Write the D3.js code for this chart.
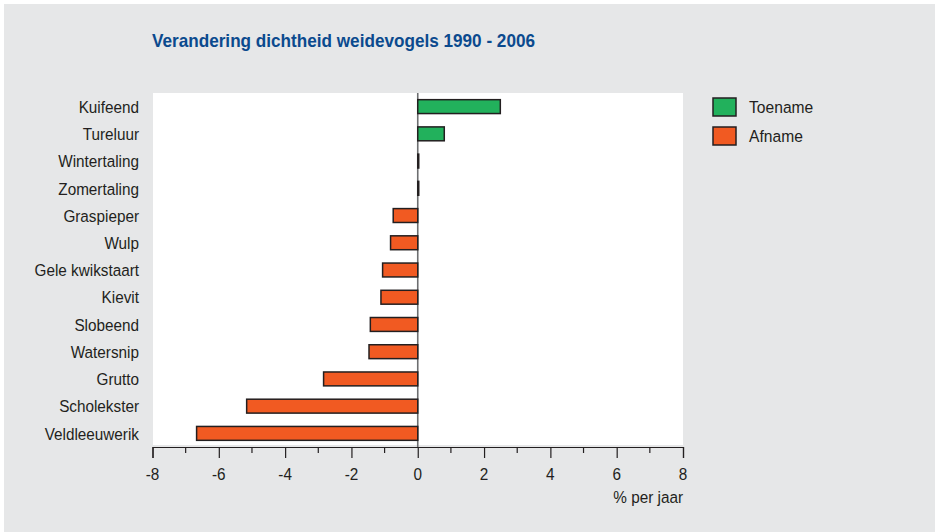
<!DOCTYPE html>
<html>
<head>
<meta charset="utf-8">
<script src="https://cdn.jsdelivr.net/npm/d3@7"></script>
<style>
  html, body { margin: 0; padding: 0; background: #fff; }
  svg { display: block; font-family: "Liberation Sans", Arial, sans-serif; }
</style>
</head>
<body>
<svg id="chart" width="937" height="532"></svg>
<script>
// Data (% change per year, 1990 - 2006)
const birds = ["Kuifeend", "Tureluur", "Wintertaling", "Zomertaling", "Graspieper", "Wulp",
  "Gele kwikstaart", "Kievit", "Slobeend", "Watersnip", "Grutto", "Scholekster", "Veldleeuwerik"];
const change = [2.49, 0.8, 0.03, 0.03, -0.74, -0.82, -1.06, -1.11, -1.43, -1.47, -2.84, -5.16, -6.67];
const xTicks = [-8, -6, -4, -2, 0, 2, 4, 6, 8];
const legendLabels = ["Toename", "Afname"];

const GREEN = "#22b15c", ORANGE = "#f15a22", INK = "#231f20";
const FS = 17, SX = 0.9; // the original type is tall and narrow

const svg = d3.select("#chart");

// place a text at (x,y) squeezed horizontally around its anchor
function narrowText(parent, x, y, str, anchor, sx) {
  return parent.append("text")
    .attr("transform", `translate(${x},${y}) scale(${sx},1)`)
    .attr("text-anchor", anchor)
    .attr("font-size", FS).attr("fill", INK)
    .text(str);
}

// grey panel
svg.append("rect").attr("x", 4).attr("y", 4).attr("width", 931).attr("height", 528)
  .attr("fill", "#e6e7e8");

const plot = { left: 153, right: 683, top: 93, bottom: 447 };

svg.append("text")
  .attr("x", 152).attr("y", 46.5)
  .attr("font-size", 19).attr("font-weight", "bold")
  .attr("fill", "#0b4a8e")
  .attr("textLength", 383).attr("lengthAdjust", "spacingAndGlyphs")
  .text("Verandering dichtheid weidevogels 1990 - 2006");

const x = d3.scaleLinear().domain([-8, 8]).range([plot.left - 0.5, plot.right]);
const y = d3.scaleBand().domain(birds).range([plot.top, plot.bottom]).paddingInner(0.49).paddingOuter(0.245);

svg.append("rect")
  .attr("x", plot.left).attr("y", plot.top)
  .attr("width", plot.right - plot.left).attr("height", plot.bottom - plot.top - 2)
  .attr("fill", "#fff");

// zero line
svg.append("line")
  .attr("x1", x(0)).attr("x2", x(0))
  .attr("y1", plot.top).attr("y2", plot.bottom)
  .attr("stroke", "#6d6e70").attr("stroke-width", 1.6);

const data = birds.map((b, i) => ({ name: b, value: change[i] }));

svg.append("g").selectAll("rect")
  .data(data)
  .enter().append("rect")
  .attr("x", d => x(Math.min(0, d.value)))
  .attr("y", d => y(d.name))
  .attr("width", d => Math.abs(x(d.value) - x(0)))
  .attr("height", y.bandwidth())
  .attr("fill", d => d.value >= 0 ? GREEN : ORANGE)
  .attr("stroke", INK).attr("stroke-width", 1.5);

// category labels
const labelG = svg.append("g");
birds.forEach(b => narrowText(labelG, 139, y(b) + y.bandwidth() / 2 + 6.2, b, "end", SX));

// x axis
const axisG = svg.append("g").attr("transform", `translate(0,${plot.bottom})`);
axisG.call(d3.axisBottom(x).tickValues(xTicks).tickSize(11).tickFormat(""));
axisG.select(".domain").attr("stroke", INK).attr("stroke-width", 1.2);
axisG.selectAll(".tick line").attr("stroke", INK).attr("stroke-width", 1.2);
xTicks.forEach(t => narrowText(axisG, x(t), 33, t < 0 ? "-" + Math.abs(t) : String(t), "middle", SX));
// minor ticks
axisG.selectAll("line.minor")
  .data(d3.range(-7, 8, 2))
  .enter().append("line")
  .attr("class", "minor")
  .attr("x1", d => x(d)).attr("x2", d => x(d))
  .attr("y1", 0).attr("y2", 6)
  .attr("stroke", INK).attr("stroke-width", 1.2);

narrowText(svg, plot.right, 503, "% per jaar", "end", SX);

// legend
const legend = svg.append("g").selectAll("g")
  .data(legendLabels)
  .enter().append("g")
  .attr("transform", (d, i) => `translate(713,${98 + i * 29})`);
legend.append("rect")
  .attr("width", 23).attr("height", 18)
  .attr("fill", (d, i) => i === 0 ? GREEN : ORANGE)
  .attr("stroke", INK).attr("stroke-width", 1.5);
legend.each(function (d) { narrowText(d3.select(this), 36, 15.3, d, "start", 0.92); });
</script>
</body>
</html>
